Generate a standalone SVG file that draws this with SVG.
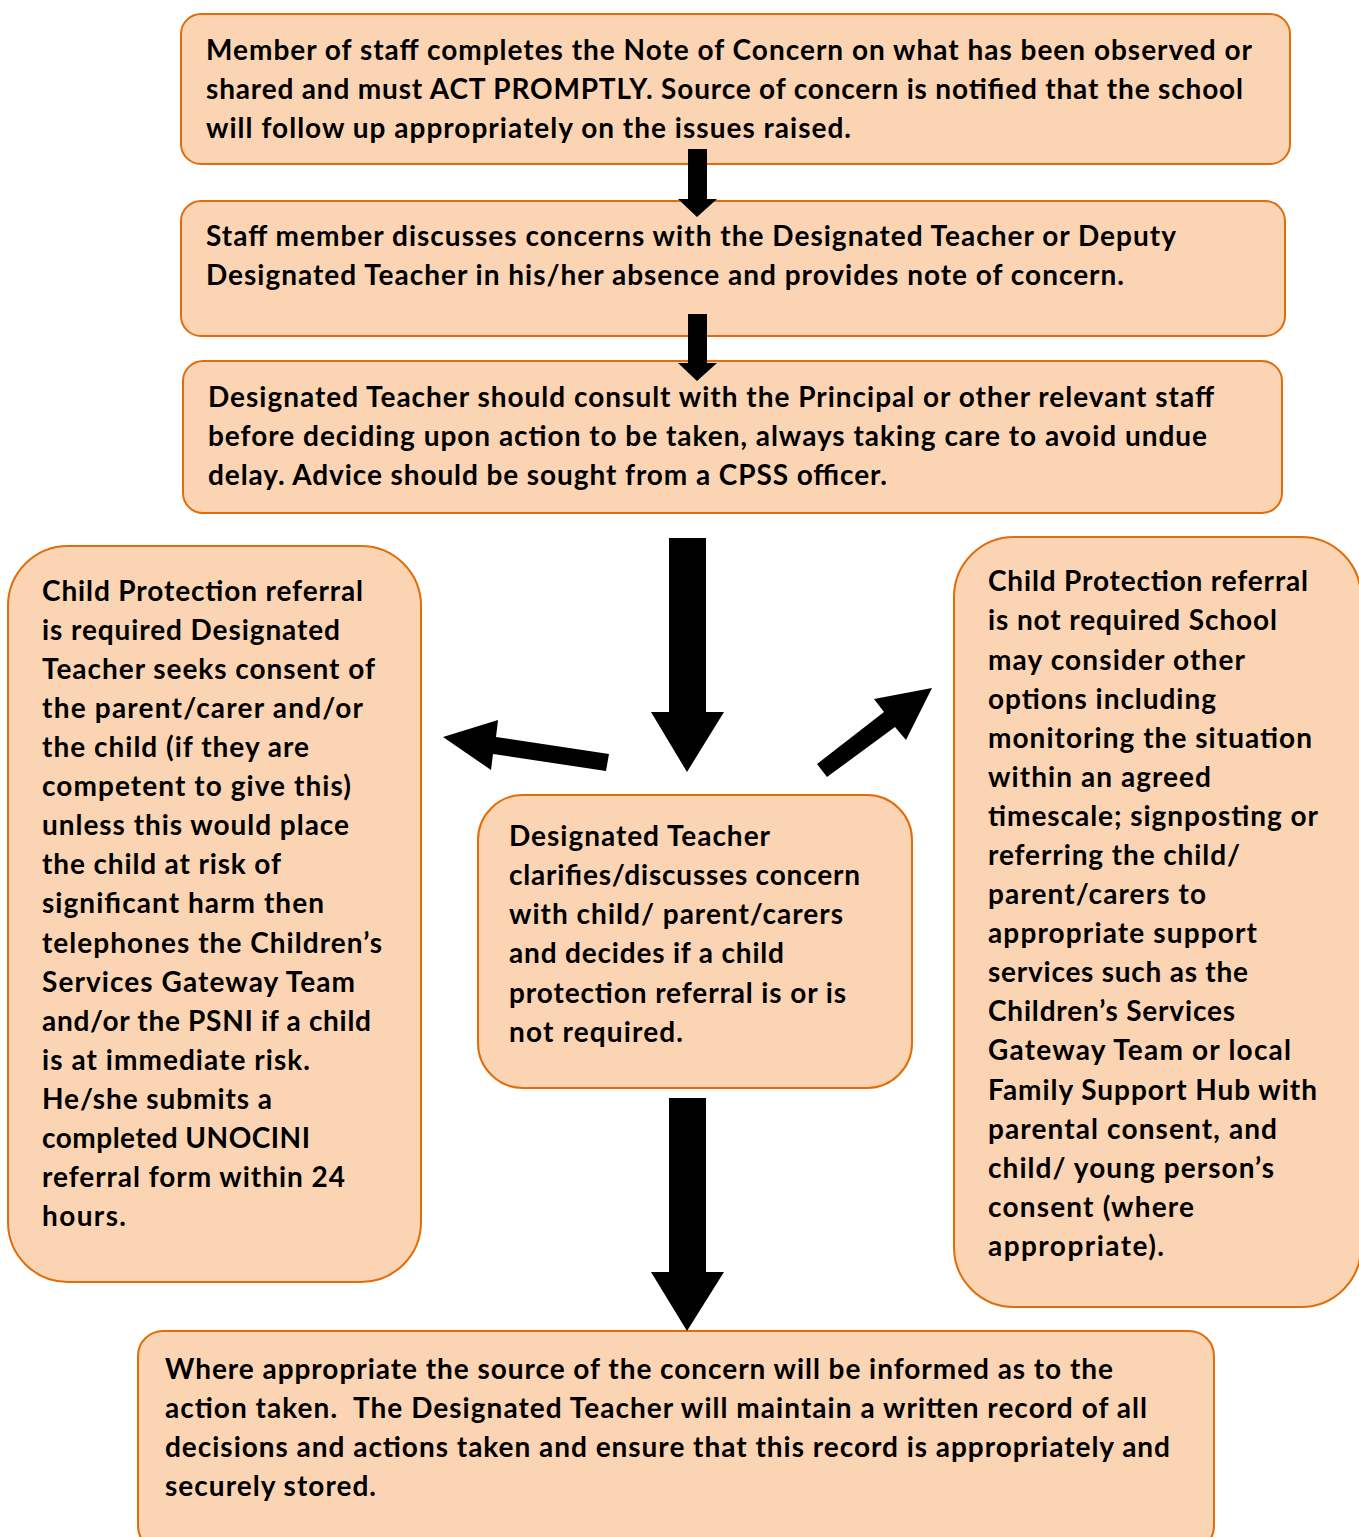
<svg xmlns="http://www.w3.org/2000/svg" width="1359" height="1537" viewBox="0 0 1359 1537">
<style>
.box{fill:#FBD4B4;stroke:#E36C0A;stroke-width:2}
.t{font-family:Lato,"Open Sans","Liberation Sans",sans-serif;font-weight:700;font-size:28px;fill:#000}
.arr{fill:#000}
</style>
<rect width="1359" height="1537" fill="#fff"/>
<g id="node-note-of-concern">
<rect class="box" x="181" y="14" width="1109" height="150" rx="20"/>
<text class="t" x="206" y="60" textLength="1046">Member of staff completes the Note of Concern on what has been observed or</text>
<text class="t" x="206" y="99" textLength="1037">shared and must ACT PROMPTLY. Source of concern is notified that the school</text>
<text class="t" x="206" y="138" textLength="645">will follow up appropriately on the issues raised.</text>
</g>
<g id="node-staff-discusses">
<rect class="box" x="181" y="201" width="1104" height="135" rx="20"/>
<text class="t" x="206" y="246" textLength="970">Staff member discusses concerns with the Designated Teacher or Deputy</text>
<text class="t" x="206" y="285" textLength="918">Designated Teacher in his/her absence and provides note of concern.</text>
</g>
<g id="node-dt-consult">
<rect class="box" x="183" y="361" width="1099" height="152" rx="20"/>
<text class="t" x="208" y="407" textLength="1006">Designated Teacher should consult with the Principal or other relevant staff</text>
<text class="t" x="208" y="446" textLength="999">before deciding upon action to be taken, always taking care to avoid undue</text>
<text class="t" x="208" y="485" textLength="679">delay. Advice should be sought from a CPSS officer.</text>
</g>
<g id="node-referral-required">
<rect class="box" x="8" y="546" width="413" height="736" rx="60"/>
<text class="t" x="42" y="601" textLength="321">Child Protection referral</text>
<text class="t" x="42" y="640" textLength="298">is required Designated</text>
<text class="t" x="42" y="679" textLength="333">Teacher seeks consent of</text>
<text class="t" x="42" y="718" textLength="321">the parent/carer and/or</text>
<text class="t" x="42" y="757" textLength="267">the child (if they are</text>
<text class="t" x="42" y="796" textLength="309">competent to give this)</text>
<text class="t" x="42" y="835" textLength="307">unless this would place</text>
<text class="t" x="42" y="874" textLength="239">the child at risk of</text>
<text class="t" x="42" y="913" textLength="282">significant harm then</text>
<text class="t" x="42" y="953" textLength="340">telephones the Children’s</text>
<text class="t" x="42" y="992" textLength="313">Services Gateway Team</text>
<text class="t" x="42" y="1031" textLength="329">and/or the PSNI if a child</text>
<text class="t" x="42" y="1070" textLength="268">is at immediate risk.</text>
<text class="t" x="42" y="1109" textLength="230">He/she submits a</text>
<text class="t" x="42" y="1148" textLength="268">completed UNOCINI</text>
<text class="t" x="42" y="1187" textLength="303">referral form within 24</text>
<text class="t" x="42" y="1226" textLength="84">hours.</text>
</g>
<g id="node-dt-clarifies">
<rect class="box" x="478" y="795" width="434" height="293" rx="45"/>
<text class="t" x="509" y="846" textLength="261">Designated Teacher</text>
<text class="t" x="509" y="885" textLength="351">clarifies/discusses concern</text>
<text class="t" x="509" y="924" textLength="334">with child/ parent/carers</text>
<text class="t" x="509" y="963" textLength="275">and decides if a child</text>
<text class="t" x="509" y="1003" textLength="337">protection referral is or is</text>
<text class="t" x="509" y="1042" textLength="174">not required.</text>
</g>
<g id="node-referral-not-required">
<rect class="box" x="954" y="537" width="407" height="770" rx="60"/>
<text class="t" x="988" y="591" textLength="320">Child Protection referral</text>
<text class="t" x="988" y="630" textLength="289">is not required School</text>
<text class="t" x="988" y="670" textLength="257">may consider other</text>
<text class="t" x="988" y="709" textLength="228">options including</text>
<text class="t" x="988" y="748" textLength="324">monitoring the situation</text>
<text class="t" x="988" y="787" textLength="223">within an agreed</text>
<text class="t" x="988" y="826" textLength="330">timescale; signposting or</text>
<text class="t" x="988" y="865" textLength="252">referring the child/</text>
<text class="t" x="988" y="904" textLength="218">parent/carers to</text>
<text class="t" x="988" y="943" textLength="269">appropriate support</text>
<text class="t" x="988" y="982" textLength="260">services such as the</text>
<text class="t" x="988" y="1021" textLength="247">Children’s Services</text>
<text class="t" x="988" y="1060" textLength="303">Gateway Team or local</text>
<text class="t" x="988" y="1100" textLength="329">Family Support Hub with</text>
<text class="t" x="988" y="1139" textLength="289">parental consent, and</text>
<text class="t" x="988" y="1178" textLength="286">child/ young person’s</text>
<text class="t" x="988" y="1217" textLength="206">consent (where</text>
<text class="t" x="988" y="1256" textLength="176">appropriate).</text>
</g>
<g id="node-source-informed">
<rect class="box" x="138" y="1331" width="1076" height="220" rx="25"/>
<text class="t" x="165" y="1379" textLength="948">Where appropriate the source of the concern will be informed as to the</text>
<text class="t" x="165" y="1418" textLength="982" style="white-space:pre">action taken.  The Designated Teacher will maintain a written record of all</text>
<text class="t" x="165" y="1457" textLength="1005">decisions and actions taken and ensure that this record is appropriately and</text>
<text class="t" x="165" y="1496" textLength="211">securely stored.</text>
</g>
<g id="connectors">
<polygon class="arr" points="688,149 707,149 707,199 717,199 697,217 678,199 688,199"/>
<polygon class="arr" points="688,314 707,314 707,363 717,363 697,381 678,363 688,363"/>
<polygon class="arr" points="669,538 706,538 706,712 724,712 687,772 651,712 669,712"/>
<polygon class="arr" points="443,737 498,720 496,737 609,754 606,771 493,754 491,770"/>
<polygon class="arr" points="817,764 884,712 874,699 932,688 906,740 895,727 827,777"/>
<polygon class="arr" points="669,1098 706,1098 706,1272 724,1272 687,1331 651,1272 669,1272"/>
</g>
</svg>
